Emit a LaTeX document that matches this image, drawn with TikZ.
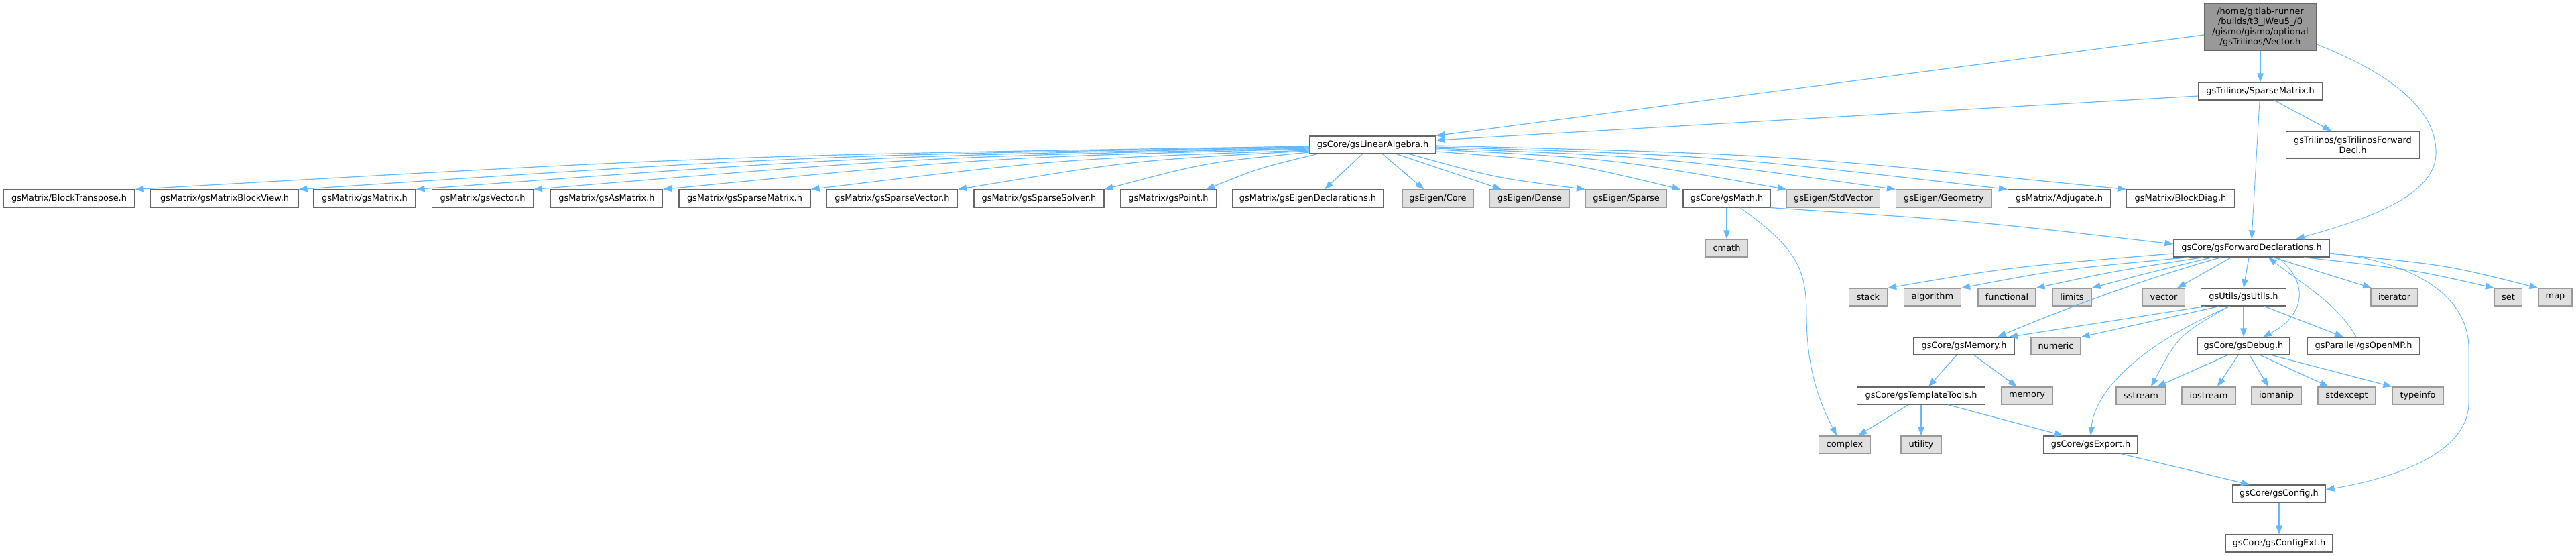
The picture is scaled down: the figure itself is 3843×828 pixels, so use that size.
\documentclass[tikz,border=0pt]{standalone}
\usepackage{fontspec}
\setmainfont{DejaVu Sans}
\usetikzlibrary{arrows.meta}
\definecolor{edgec}{RGB}{99,184,255}
\definecolor{gfill}{RGB}{224,224,224}
\definecolor{gline}{RGB}{153,153,153}
\definecolor{rfill}{RGB}{153,153,153}
\definecolor{wline}{RGB}{102,102,102}
\begin{document}
\begin{tikzpicture}[x=1pt,y=-1pt,
 every node/.style={font=\fontsize{12.9}{15}\selectfont, inner sep=0pt, align=center},
 wbox/.style={draw=wline, fill=white, line width=1.2pt, minimum height=26pt},
 gbox/.style={draw=gline, fill=gfill, line width=1.2pt, minimum height=26pt},
 rbox/.style={draw=wline, fill=rfill, line width=1.2pt},
 gedge/.style={draw=edgec, line width=1.2pt, -{Triangle[length=13pt,width=9.5pt]}},
 tedge/.style={draw=edgec, line width=0.9pt, -{Triangle[length=13pt,width=9.5pt]}}
]
\useasboundingbox (0,0) rectangle (3843,828);

% nodes
\node[rbox, minimum width=167pt, minimum height=70pt] (root) at (3372,40) {/home/gitlab-runner\\/builds/t3\_JWeu5\_/0\\/gismo/gismo/optional\\/gsTrilinos/Vector.h};
\node[wbox, minimum width=185pt] (sparse) at (3372,136) {gsTrilinos/SparseMatrix.h};
\node[wbox, minimum width=199pt, minimum height=40pt] (tfd) at (3510,216) {gsTrilinos/gsTrilinosForward\\Decl.h};
\node[wbox, minimum width=188pt] (la) at (2048,216) {gsCore/gsLinearAlgebra.h};

\node[wbox, minimum width=196pt] (bt) at (103,296) {gsMatrix/BlockTranspose.h};
\node[wbox, minimum width=220pt] (bv) at (335,296) {gsMatrix/gsMatrixBlockView.h};
\node[wbox, minimum width=152pt] (mat) at (544,296) {gsMatrix/gsMatrix.h};
\node[wbox, minimum width=151pt] (vec) at (720,296) {gsMatrix/gsVector.h};
\node[wbox, minimum width=167pt] (asm) at (905,296) {gsMatrix/gsAsMatrix.h};
\node[wbox, minimum width=196pt] (spm) at (1111,296) {gsMatrix/gsSparseMatrix.h};
\node[wbox, minimum width=195pt] (spv) at (1331,296) {gsMatrix/gsSparseVector.h};
\node[wbox, minimum width=194pt] (sps) at (1550,296) {gsMatrix/gsSparseSolver.h};
\node[wbox, minimum width=143pt] (pt) at (1743,296) {gsMatrix/gsPoint.h};
\node[wbox, minimum width=225pt] (ed) at (1951,296) {gsMatrix/gsEigenDeclarations.h};
\node[gbox, minimum width=106pt] (core) at (2145,296) {gsEigen/Core};
\node[gbox, minimum width=119pt] (dense) at (2282,296) {gsEigen/Dense};
\node[gbox, minimum width=121pt] (esparse) at (2426,296) {gsEigen/Sparse};
\node[wbox, minimum width=130pt] (math) at (2576,296) {gsCore/gsMath.h};
\node[gbox, minimum width=139pt] (stdv) at (2735,296) {gsEigen/StdVector};
\node[gbox, minimum width=143pt] (geom) at (2900,296) {gsEigen/Geometry};
\node[wbox, minimum width=153pt] (adj) at (3072,296) {gsMatrix/Adjugate.h};
\node[wbox, minimum width=161pt] (bd) at (3253,296) {gsMatrix/BlockDiag.h};

\node[wbox, minimum width=232pt] (fd) at (3359,370) {gsCore/gsForwardDeclarations.h};
\node[gbox, minimum width=63pt] (cmath) at (2576,370) {cmath};

\node[gbox, minimum width=57pt] (stack) at (2787,443) {stack};
\node[gbox, minimum width=85pt] (algo) at (2883,443) {algorithm};
\node[gbox, minimum width=86pt] (func) at (2994,443) {functional};
\node[gbox, minimum width=58pt] (limits) at (3091,443) {limits};
\node[gbox, minimum width=63pt] (vector) at (3228,443) {vector};
\node[wbox, minimum width=127pt] (utils) at (3347,443) {gsUtils/gsUtils.h};
\node[gbox, minimum width=70pt] (iter) at (3572,443) {iterator};
\node[gbox, minimum width=41pt] (set) at (3742,443) {set};
\node[gbox, minimum width=50pt] (map) at (3812,443) {map};

\node[wbox, minimum width=150pt] (memh) at (2930,516) {gsCore/gsMemory.h};
\node[gbox, minimum width=74pt] (numeric) at (3067,516) {numeric};
\node[wbox, minimum width=138pt] (debug) at (3347,516) {gsCore/gsDebug.h};
\node[wbox, minimum width=168pt] (omp) at (3526,516) {gsParallel/gsOpenMP.h};

\node[wbox, minimum width=191pt] (tt) at (2866,590) {gsCore/gsTemplateTools.h};
\node[gbox, minimum width=77pt] (memory) at (3024,590) {memory};
\node[gbox, minimum width=74pt] (sstream) at (3194,590) {sstream};
\node[gbox, minimum width=80pt] (iostream) at (3295,590) {iostream};
\node[gbox, minimum width=75pt] (iomanip) at (3396,590) {iomanip};
\node[gbox, minimum width=86pt] (stdexcept) at (3501,590) {stdexcept};
\node[gbox, minimum width=76pt] (typeinfo) at (3607,590) {typeinfo};

\node[gbox, minimum width=77pt] (complex) at (2752,663) {complex};
\node[gbox, minimum width=60pt] (utility) at (2866,663) {utility};
\node[wbox, minimum width=140pt] (export) at (3119,663) {gsCore/gsExport.h};

\node[wbox, minimum width=138pt] (config) at (3400,736) {gsCore/gsConfig.h};
\node[wbox, minimum width=159pt] (configext) at (3400,810) {gsCore/gsConfigExt.h};

% edges from root
\draw[gedge] ([yshift=-12pt]root.west) -- (la.north east);
\draw[gedge] (root.south) -- (sparse.north);
\draw[tedge] ([yshift=-26pt]root.east) .. controls (3580,115) and (3636,170) .. (3634,230) .. controls (3632,295) and (3520,330) .. ([xshift=66pt]fd.north);

% sparse matrix
\draw[gedge] ([yshift=-7pt]sparse.west) -- ([yshift=7pt]la.east);
\draw[tedge] ([xshift=-1pt]sparse.south) -- (fd.north);
\draw[gedge] ([xshift=21pt]sparse.south) -- ([xshift=-32pt]tfd.north);

% linear algebra
\draw[gedge] ([yshift=-2pt]la.west) .. controls (1078,232) .. (bt.north east);
\draw[gedge] ([yshift=-3pt]la.west) .. controls (1200,232) .. (bv.north east);
\draw[gedge] ([yshift=-4pt]la.west) .. controls (1287,233) .. (mat.north east);
\draw[gedge] ([yshift=-5pt]la.west) .. controls (1375,234) .. (vec.north east);
\draw[gedge] ([yshift=-6pt]la.west) .. controls (1471,235) .. (asm.north east);
\draw[gedge] ([yshift=-8pt]la.west) .. controls (1582,237) .. (spm.north east);
\draw[gedge] ([yshift=-9pt]la.west) .. controls (1691,239) .. (spv.north east);
\draw[gedge] ([yshift=-11pt]la.west) .. controls (1800,242) .. (sps.north east);
\draw[gedge] ([xshift=12pt]la.south west) .. controls (1880,250) .. ([xshift=-16pt]pt.north east);
\draw[gedge] ([xshift=79pt]la.south west) -- ([xshift=25pt]ed.north);
\draw[gedge] ([xshift=109pt]la.south west) -- ([xshift=33pt]core.north west);
\draw[gedge] ([xshift=130pt]la.south west) -- ([xshift=18pt]dense.north west);
\draw[gedge] ([xshift=149pt]la.south west) .. controls (2230,265) .. (esparse.north west);
\draw[gedge] ([yshift=-10pt]la.east) .. controls (2330,240) .. ([xshift=-3pt]math.north west);
\draw[gedge] ([yshift=-7pt]la.east) .. controls (2400,236) .. (stdv.north west);
\draw[gedge] ([yshift=-5pt]la.east) .. controls (2480,234) .. (geom.north west);
\draw[gedge] ([yshift=-3pt]la.east) .. controls (2560,232) .. (adj.north west);
\draw[gedge] ([yshift=-1pt]la.east) .. controls (2650,230) .. (bd.north west);

% gsMath
\draw[gedge] (math.south) -- (cmath.north);
\draw[gedge] (math.south east) .. controls (2950,330) .. ([yshift=6pt]fd.west);
\draw[tedge] ([xshift=20pt]math.south) .. controls (2680,370) and (2695,400) .. (2695,470) .. controls (2695,560) and (2720,610) .. ([xshift=-12pt]complex.north);

% forward declarations
\draw[gedge] ([yshift=-8pt]fd.west) .. controls (3000,398) .. (stack.north east);
\draw[gedge] ([xshift=23pt]fd.south west) .. controls (3070,402) .. (algo.north east);
\draw[gedge] ([xshift=44pt]fd.south west) .. controls (3150,405) .. (func.north east);
\draw[gedge] ([xshift=58pt]fd.south west) .. controls (3200,408) .. (limits.north east);
\draw[gedge] ([xshift=-30pt]fd.south) -- ([xshift=20pt]vector.north);
\draw[gedge] ([xshift=-4pt]fd.south) -- (utils.north);
\draw[gedge] ([xshift=-45pt]fd.south) .. controls (3210,412) and (3080,460) .. ([xshift=50pt]memh.north);
\draw[gedge] ([xshift=32pt]fd.south) -- ([xshift=-34pt]iter.north);
\draw[gedge] ([xshift=78pt]fd.south) .. controls (3600,402) .. (set.north west);
\draw[gedge] ([yshift=-8pt]fd.east) .. controls (3650,395) .. (map.north west);
\draw[tedge] ([xshift=39pt]fd.south) .. controls (3445,420) and (3440,470) .. ([xshift=29pt]debug.north);
\draw[tedge] ([yshift=-7pt]fd.east) .. controls (3600,390) and (3683,440) .. (3683,520) -- (3683,600) .. controls (3683,680) and (3560,715) .. ([yshift=6pt]config.east);

% gsOpenMP
\draw[tedge] ([xshift=-11pt]omp.north) .. controls (3490,455) and (3430,420) .. ([xshift=25pt]fd.south);

% gsUtils
\draw[gedge] ([xshift=-57pt]utils.south) -- ([xshift=67pt]memh.north);
\draw[gedge] ([xshift=-36pt]utils.south) -- (numeric.north east);
\draw[tedge] ([xshift=-22pt]utils.south) .. controls (3250,500) .. ([xshift=15pt]sstream.north);
\draw[tedge] ([xshift=-20pt]utils.south) .. controls (3200,510) and (3125,580) .. (export.north);
\draw[gedge] (utils.south) -- (debug.north);
\draw[gedge] ([xshift=31pt]utils.south) -- ([xshift=-30pt]omp.north);

% gsDebug
\draw[gedge] ([xshift=-24pt]debug.south) -- ([xshift=24pt]sstream.north);
\draw[gedge] ([xshift=-8pt]debug.south) -- ([xshift=13pt]iostream.north);
\draw[gedge] ([xshift=9pt]debug.south) -- ([xshift=-12pt]iomanip.north);
\draw[gedge] ([xshift=25pt]debug.south) -- ([xshift=-27pt]stdexcept.north);
\draw[gedge] ([xshift=42pt]debug.south) -- (typeinfo.north west);

% gsMemory and below
\draw[gedge] ([xshift=-11pt]memh.south) -- ([xshift=11pt]tt.north);
\draw[gedge] ([xshift=15pt]memh.south) -- ([xshift=-15pt]memory.north);
\draw[gedge] ([xshift=-19pt]tt.south) -- ([xshift=20pt]complex.north);
\draw[gedge] (tt.south) -- (utility.north);
\draw[gedge] ([xshift=40pt]tt.south) -- ([xshift=-41pt]export.north);
\draw[gedge] ([xshift=45pt]export.south) -- ([xshift=-44pt]config.north);
\draw[gedge] (config.south) -- (configext.north);
\end{tikzpicture}
\end{document}
